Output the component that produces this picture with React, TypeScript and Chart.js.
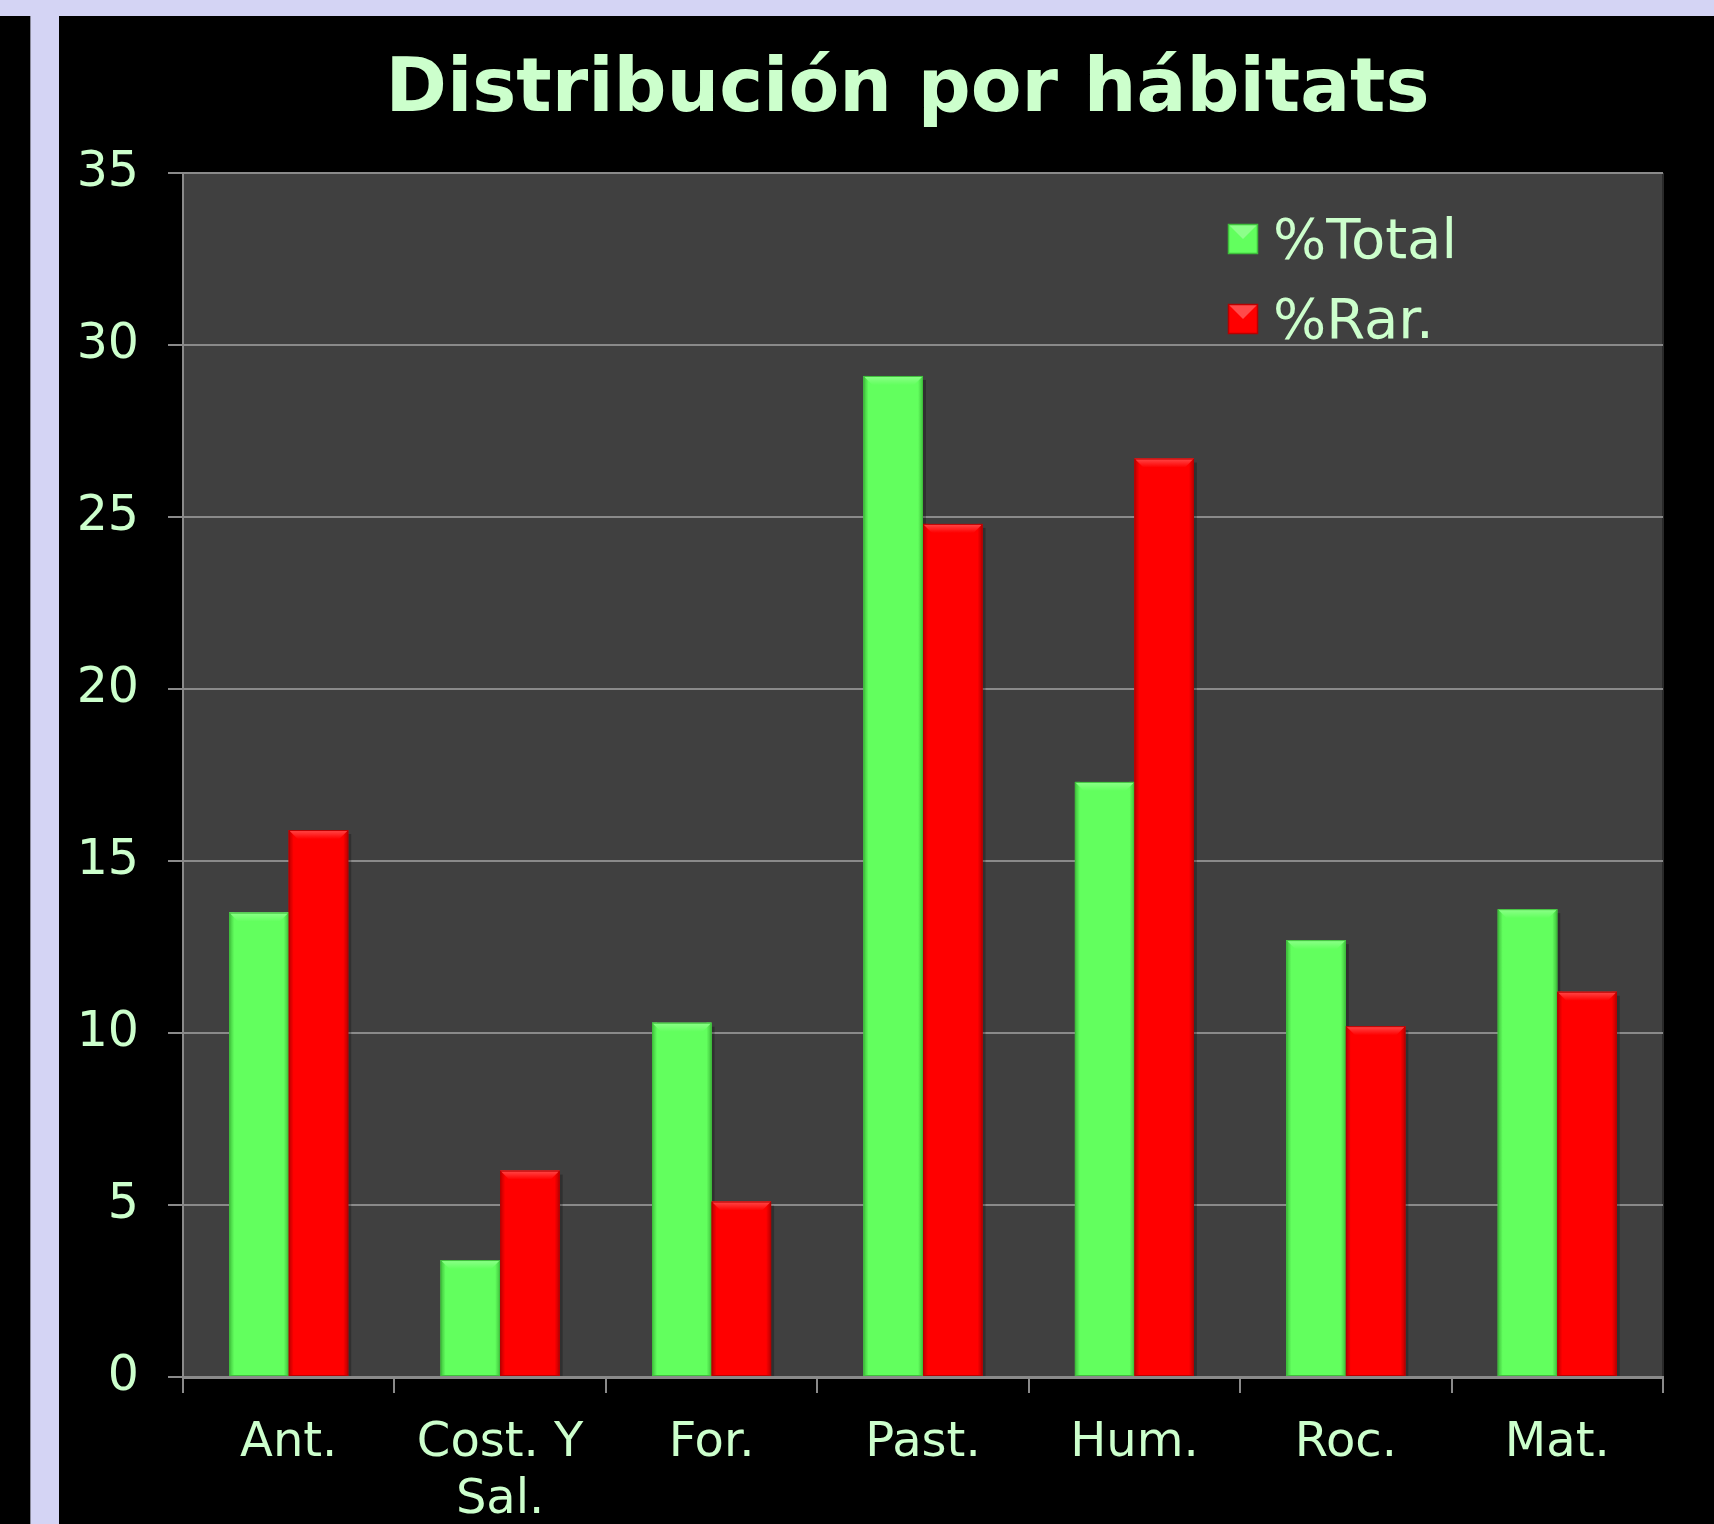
import React, { useEffect, useRef } from "react";
import { Chart, registerables } from "chart.js";

Chart.register(...registerables);

const chartTitle = "Distribución por hábitats";
const categories: (string | string[])[] = ["Ant.", ["Cost. Y", "Sal."], "For.", "Past.", "Hum.", "Roc.", "Mat."];
const totalValues = [13.5, 3.4, 10.3, 29.1, 17.3, 12.7, 13.6];
const rarValues = [15.9, 6.0, 5.1, 24.8, 26.7, 10.2, 11.2];
const seriesLabels = ["%Total", "%Rar."];
const yMax = 35;
const yStep = 5;

const TEXT = "#ccffcc";
const GRID = "#8a8a8a";
const faces = ["#62ff5e", "#ff0000"];
const highlights = ["#8dff8a", "#ff4a4a"];
const edges = ["#3fbf3c", "#b80000"];

const plotBg = {
  id: "plotBg",
  beforeDraw(chart: any) {
    const { ctx, chartArea: a } = chart;
    ctx.save();
    ctx.fillStyle = "#404040";
    ctx.fillRect(a.left, a.top, a.right - a.left, a.bottom - a.top);
    ctx.strokeStyle = "#2a2a2a";
    ctx.lineWidth = 2;
    ctx.beginPath();
    ctx.moveTo(a.right, a.top);
    ctx.lineTo(a.right, a.bottom);
    ctx.stroke();
    ctx.restore();
  },
};

const titlePlugin = {
  id: "titleText",
  afterDraw(chart: any) {
    const { ctx, chartArea: a } = chart;
    ctx.save();
    ctx.font = "bold 74px 'DejaVu Sans'";
    ctx.fillStyle = TEXT;
    ctx.textAlign = "center";
    ctx.textBaseline = "middle";
    ctx.fillText(chartTitle, (a.left + a.right) / 2 - 15.5, 75.5);
    ctx.restore();
  },
};

const bevel = {
  id: "bevel",
  afterDatasetsDraw(chart: any) {
    const ctx = chart.ctx;
    chart.data.datasets.forEach((_ds: any, i: number) => {
      const meta = chart.getDatasetMeta(i);
      meta.data.forEach((bar: any) => {
        const { x, y, width, base } = bar.getProps(["x", "y", "width", "base"], true);
        const l = x - width / 2;
        const r = x + width / 2;
        const t = y;
        const b = base;
        const d = Math.min(9, width / 4, (b - t) / 2);
        ctx.save();
        ctx.fillStyle = "rgba(0,0,0,0.25)";
        ctx.fillRect(r, t + 4, 3, b - t - 4);
        const gl = ctx.createLinearGradient(l, 0, l + 5, 0);
        gl.addColorStop(0, edges[i]);
        gl.addColorStop(1, faces[i]);
        ctx.fillStyle = gl;
        ctx.fillRect(l, t, 5, b - t);
        const gr = ctx.createLinearGradient(r - 5, 0, r, 0);
        gr.addColorStop(0, faces[i]);
        gr.addColorStop(1, edges[i]);
        ctx.fillStyle = gr;
        ctx.fillRect(r - 5, t, 5, b - t);
        const gt = ctx.createLinearGradient(0, t, 0, t + d);
        gt.addColorStop(0, highlights[i]);
        gt.addColorStop(1, faces[i]);
        ctx.fillStyle = gt;
        ctx.beginPath();
        ctx.moveTo(l, t);
        ctx.lineTo(r, t);
        ctx.lineTo(r - d, t + d);
        ctx.lineTo(l + d, t + d);
        ctx.closePath();
        ctx.fill();
        ctx.strokeStyle = edges[i];
        ctx.lineWidth = 1;
        ctx.strokeRect(l + 0.5, t + 0.5, width - 1, b - t - 1);
        ctx.restore();
      });
    });
  },
};

const legendBox = {
  id: "legendBox",
  afterDraw(chart: any) {
    const { ctx, chartArea: a } = chart;
    ctx.save();
    ctx.font = "56px 'DejaVu Sans'";
    ctx.textBaseline = "middle";
    ctx.textAlign = "left";
    chart.data.datasets.forEach((ds: any, i: number) => {
      const sx = a.left + 1045;
      const sy = a.top + 51 + i * 80;
      const s = 30;
      ctx.fillStyle = faces[i];
      ctx.fillRect(sx, sy, s, s);
      ctx.fillStyle = highlights[i];
      ctx.beginPath();
      ctx.moveTo(sx, sy);
      ctx.lineTo(sx + s, sy);
      ctx.lineTo(sx + s / 2, sy + s / 2);
      ctx.closePath();
      ctx.fill();
      ctx.strokeStyle = edges[i];
      ctx.lineWidth = 1.5;
      ctx.strokeRect(sx + 0.5, sy + 0.5, s - 1, s - 1);
      ctx.fillStyle = TEXT;
      ctx.fillText(ds.label, sx + 45, sy + s / 2 + 4);
    });
    ctx.restore();
  },
};

export default function App() {
  const ref = useRef<HTMLCanvasElement>(null);
  useEffect(() => {
    if (!ref.current) return;
    const chart = new Chart(ref.current, {
      type: "bar",
      data: {
        labels: categories as any,
        datasets: [
          { label: seriesLabels[0], data: totalValues, backgroundColor: faces[0], borderWidth: 0 },
          { label: seriesLabels[1], data: rarValues, backgroundColor: faces[1], borderWidth: 0 },
        ],
      },
      options: {
        animation: false,
        responsive: false,
        devicePixelRatio: 1,
        layout: { padding: { left: 0, right: 51, top: 157, bottom: 0 } },
        datasets: { bar: { categoryPercentage: 0.563, barPercentage: 1 } },
        plugins: {
          legend: { display: false },
          tooltip: { enabled: false },
          title: { display: false },
        },
        scales: {
          x: {
            grid: {
              offset: true,
              drawOnChartArea: false,
              color: GRID,
              lineWidth: 2,
              tickLength: 16,
            },
            border: { color: GRID, width: 3 },
            ticks: {
              color: TEXT,
              font: { family: "'DejaVu Sans'", size: 48, lineHeight: 1.19 },
              padding: 22,
              maxRotation: 0,
              autoSkip: false,
            },
            afterFit: (s: any) => {
              s.height = 147;
            },
          },
          y: {
            min: 0,
            max: yMax,
            grid: { color: GRID, lineWidth: 2, tickLength: 15 },
            border: { color: GRID, width: 2 },
            ticks: {
              stepSize: yStep,
              color: TEXT,
              font: { family: "'DejaVu Sans'", size: 49 },
              padding: 29,
            },
            afterFit: (s: any) => {
              s.width = 124;
            },
          },
        },
      },
      plugins: [plotBg, bevel, legendBox, titlePlugin],
    });
    return () => chart.destroy();
  }, []);

  return (
    <div style={{ position: "fixed", left: 0, top: 0, width: 1714, height: 1524, background: "#000", overflow: "hidden" }}>
      <div style={{ position: "absolute", left: 0, top: 0, width: 1714, height: 16, background: "#d4d4f4" }} />
      <div style={{ position: "absolute", left: 30, top: 16, width: 29, height: 1508, background: "#d4d4f4", borderLeft: "1px solid #8a8a9a", boxSizing: "border-box" }} />
      <canvas ref={ref} width={1655} height={1508} style={{ position: "absolute", left: 59, top: 16, width: 1655, height: 1508 }} />
    </div>
  );
}
